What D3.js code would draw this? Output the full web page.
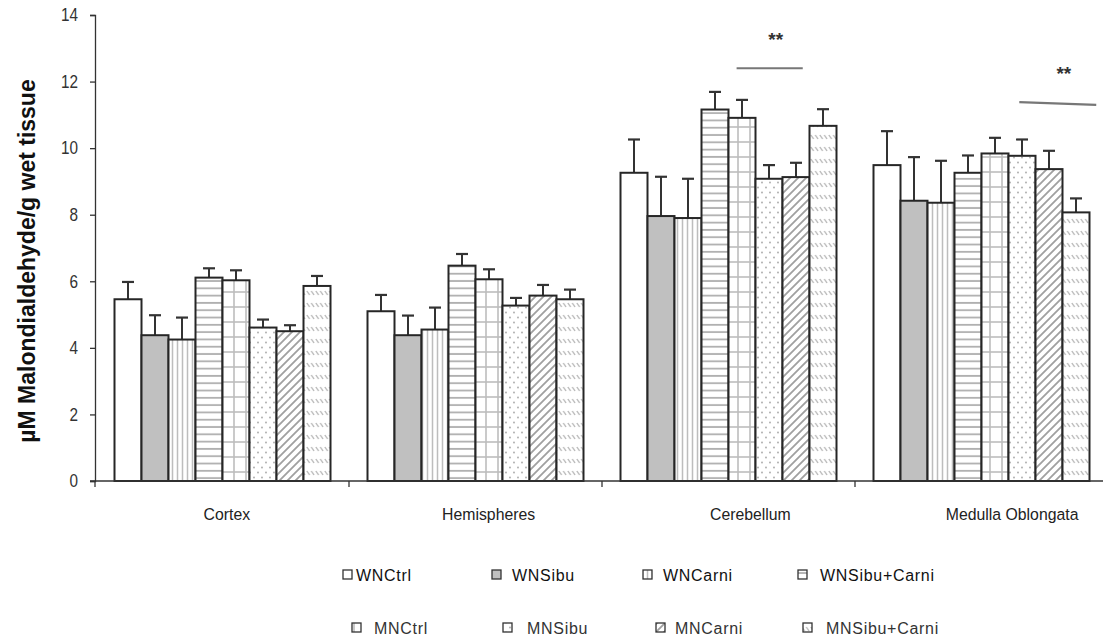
<!DOCTYPE html>
<html>
<head>
<meta charset="utf-8">
<script src="https://cdn.jsdelivr.net/npm/d3@7"></script>
<style>
  body { margin: 0; background: #fff; }
  svg { display: block; font-family: "Liberation Sans", Arial, sans-serif; }
</style>
</head>
<body>
<div id="chart"></div>
<script>
// regions on the x axis
var regions = ["Cortex", "Hemispheres", "Cerebellum", "Medulla Oblongata"];
// treatment groups (one bar each per region)
var groups = ["WNCtrl", "WNSibu", "WNCarni", "WNSibu+Carni", "MNCtrl", "MNSibu", "MNCarni", "MNSibu+Carni"];
// mean values, one array per group, in region order
var means = [
  [5.46, 5.10, 9.26, 9.49],
  [4.38, 4.38, 7.96, 8.42],
  [4.25, 4.55, 7.90, 8.36],
  [6.11, 6.47, 11.16, 9.26],
  [6.03, 6.06, 10.91, 9.84],
  [4.61, 5.27, 9.08, 9.77],
  [4.50, 5.57, 9.13, 9.37],
  [5.86, 5.46, 10.67, 8.07]
];
// upper error (SE) per group, region order
var errs = [
  [0.52, 0.49, 1.00, 1.02],
  [0.60, 0.59, 1.18, 1.31],
  [0.66, 0.66, 1.18, 1.26],
  [0.28, 0.35, 0.53, 0.52],
  [0.30, 0.30, 0.54, 0.47],
  [0.24, 0.23, 0.41, 0.49],
  [0.18, 0.32, 0.43, 0.55],
  [0.30, 0.29, 0.50, 0.42]
];
var yTicks = [0, 2, 4, 6, 8, 10, 12, 14];
// significance marks: region, from/to bar position (in bar units), y at start / end
var sigMarks = [
  {region: "Cerebellum", from: 4.3, to: 6.75, y1: 12.4, y2: 12.4, label: "**"},
  {region: "Medulla Oblongata", from: 5.4, to: 8.25, y1: 11.38, y2: 11.3, label: "**"}
];

var W = 1103, H = 643;
var svg = d3.select("#chart").append("svg").attr("width", W).attr("height", H);

var x0 = d3.scaleBand().domain(regions).range([96, 1108]).paddingInner(0).paddingOuter(0);
// category labels sit on a slightly wider spacing than the bars in the original
var xLab = d3.scaleBand().domain(regions).range([96, 1143]);
var barW = 27;
var groupW = barW * groups.length;
var x1 = d3.scaleBand().domain(groups).range([0, groupW]).padding(0);
var y = d3.scaleLinear().domain([0, 14]).range([481, 15]);

function groupStart(r) { return x0(r) + (x0.bandwidth() - groupW) / 2; }

// patterns
var defs = svg.append("defs");
var fills = ["#fff", "#c0c0c0", "url(#p-vl)", "url(#p-hl)", "url(#p-grid)", "url(#p-dot)", "url(#p-diag)", "url(#p-dash)"];

var p = defs.append("pattern").attr("id", "p-vl").attr("patternUnits", "userSpaceOnUse").attr("width", 5).attr("height", 10);
p.append("rect").attr("width", 5).attr("height", 10).attr("fill", "#fff");
p.append("line").attr("x1", 2.5).attr("x2", 2.5).attr("y1", 0).attr("y2", 10).attr("stroke", "#bdbdbd").attr("stroke-width", 1.5);

p = defs.append("pattern").attr("id", "p-hl").attr("patternUnits", "userSpaceOnUse").attr("width", 10).attr("height", 7.3);
p.append("rect").attr("width", 10).attr("height", 7.3).attr("fill", "#fff");
p.append("line").attr("x1", 0).attr("x2", 10).attr("y1", 3.6).attr("y2", 3.6).attr("stroke", "#b0b0b0").attr("stroke-width", 1.8);

p = defs.append("pattern").attr("id", "p-grid").attr("patternUnits", "userSpaceOnUse").attr("width", 12).attr("height", 15);
p.append("rect").attr("width", 12).attr("height", 15).attr("fill", "#fff");
p.append("line").attr("x1", 6).attr("x2", 6).attr("y1", 0).attr("y2", 15).attr("stroke", "#bdbdbd").attr("stroke-width", 1.6);
p.append("line").attr("x1", 0).attr("x2", 12).attr("y1", 7).attr("y2", 7).attr("stroke", "#bdbdbd").attr("stroke-width", 1.6);

p = defs.append("pattern").attr("id", "p-dot").attr("patternUnits", "userSpaceOnUse").attr("width", 8).attr("height", 10);
p.append("rect").attr("width", 8).attr("height", 10).attr("fill", "#fff");
p.append("circle").attr("cx", 2).attr("cy", 2.5).attr("r", 0.9).attr("fill", "#a8a8a8");
p.append("circle").attr("cx", 6).attr("cy", 7.5).attr("r", 0.9).attr("fill", "#a8a8a8");

p = defs.append("pattern").attr("id", "p-diag").attr("patternUnits", "userSpaceOnUse").attr("width", 8).attr("height", 8);
p.append("rect").attr("width", 8).attr("height", 8).attr("fill", "#fff");
p.append("path").attr("d", "M-2,10 L10,-2 M-6,6 L6,-6 M2,14 L14,2").attr("stroke", "#a0a0a0").attr("stroke-width", 1.8);

p = defs.append("pattern").attr("id", "p-dash").attr("patternUnits", "userSpaceOnUse").attr("width", 4.5).attr("height", 12);
p.append("rect").attr("width", 4.5).attr("height", 12).attr("fill", "#fff");
p.append("path").attr("d", "M0.8,3 L3.6,7").attr("stroke", "#b0b0b0").attr("stroke-width", 1.3);

// bars
var g = svg.append("g");
var rows = [];
groups.forEach(function(gr, gi) {
  regions.forEach(function(r, ri) {
    rows.push({region: r, group: gr, gi: gi, v: means[gi][ri], e: errs[gi][ri]});
  });
});

g.selectAll("line.err").data(rows).enter().append("line")
  .attr("class", "err")
  .attr("x1", d => groupStart(d.region) + x1(d.group) + barW / 2)
  .attr("x2", d => groupStart(d.region) + x1(d.group) + barW / 2)
  .attr("y1", d => y(d.v))
  .attr("y2", d => y(d.v + d.e))
  .attr("stroke", "#333").attr("stroke-width", 2);

g.selectAll("line.cap").data(rows).enter().append("line")
  .attr("class", "cap")
  .attr("x1", d => groupStart(d.region) + x1(d.group) + barW / 2 - 6)
  .attr("x2", d => groupStart(d.region) + x1(d.group) + barW / 2 + 6)
  .attr("y1", d => y(d.v + d.e))
  .attr("y2", d => y(d.v + d.e))
  .attr("stroke", "#333").attr("stroke-width", 2.2);

g.selectAll("rect.bar").data(rows).enter().append("rect")
  .attr("class", "bar")
  .attr("x", d => groupStart(d.region) + x1(d.group))
  .attr("y", d => y(d.v))
  .attr("width", barW)
  .attr("height", d => y(0) - y(d.v))
  .attr("fill", d => fills[d.gi])
  .attr("stroke", "#262626").attr("stroke-width", 2);

// axes
var yAxis = svg.append("g").attr("transform", "translate(95,0)")
  .call(d3.axisLeft(y).tickValues(yTicks).tickSize(5).tickPadding(15));
yAxis.select(".domain").attr("stroke", "#333").attr("stroke-width", 1.3);
yAxis.selectAll(".tick line").attr("stroke", "#333").attr("stroke-width", 1.3);
yAxis.selectAll(".tick text").attr("font-size", 18).attr("fill", "#333")
  .attr("font-family", "Liberation Sans, Arial, sans-serif")
  .attr("transform", "scale(0.85,1)");

svg.append("line").attr("x1", 90).attr("x2", W).attr("y1", y(0)).attr("y2", y(0))
  .attr("stroke", "#333").attr("stroke-width", 1.6);

svg.selectAll("line.btick").data(regions.slice(1)).enter().append("line")
  .attr("class", "btick")
  .attr("x1", d => x0(d)).attr("x2", d => x0(d))
  .attr("y1", y(0)).attr("y2", y(0) + 6)
  .attr("stroke", "#333").attr("stroke-width", 1.3);
svg.append("line").attr("x1", 95).attr("x2", 95).attr("y1", y(0)).attr("y2", y(0) + 6)
  .attr("stroke", "#333").attr("stroke-width", 1.3);

svg.selectAll("text.cat").data(regions).enter().append("text")
  .attr("class", "cat")
  .attr("x", d => xLab(d) + xLab.bandwidth() / 2)
  .attr("y", 520)
  .attr("text-anchor", "middle")
  .attr("font-size", 17)
  .attr("fill", "#222")
  .attr("transform", d => { var cx = xLab(d) + xLab.bandwidth() / 2; return "translate(" + cx + ",0) scale(0.93,1) translate(" + (-cx) + ",0)"; })
  .text(d => d);

svg.append("text")
  .attr("transform", "translate(35,261) rotate(-90)")
  .attr("text-anchor", "middle")
  .attr("font-size", 23)
  .attr("font-weight", "bold")
  .attr("fill", "#111")
  .text("µM Malondialdehyde/g wet tissue");

// significance
sigMarks.forEach(function(s) {
  var xa = groupStart(s.region) + s.from * barW;
  var xb = groupStart(s.region) + s.to * barW;
  svg.append("line").attr("x1", xa).attr("x2", xb).attr("y1", y(s.y1)).attr("y2", y(s.y2))
    .attr("stroke", "#777").attr("stroke-width", 2.2);
  svg.append("text").attr("x", (xa + xb) / 2 + 6).attr("y", y(s.y1) - 22)
    .attr("text-anchor", "middle").attr("font-size", 19).attr("font-weight", "bold").attr("fill", "#333")
    .text(s.label);
});

// legend
var legSqX = [343, 492, 643, 798, 352, 503, 656, 803];
var legTxX = [356, 512, 663, 820, 374, 527, 675, 826];
var legY = [575, 575, 575, 575, 628, 628, 628, 628];
var leg = svg.append("g");
groups.forEach(function(gr, i) {
  leg.append("rect").attr("x", legSqX[i]).attr("y", legY[i] - 5).attr("width", 9).attr("height", 9)
    .attr("fill", fills[i]).attr("stroke", "#333").attr("stroke-width", 1.3);
  leg.append("text").attr("x", legTxX[i]).attr("y", legY[i] + 6)
    .attr("font-size", 16).attr("letter-spacing", 0.7).attr("fill", i < 4 ? "#111" : "#333")
    .text(gr);
});
</script>
</body>
</html>
